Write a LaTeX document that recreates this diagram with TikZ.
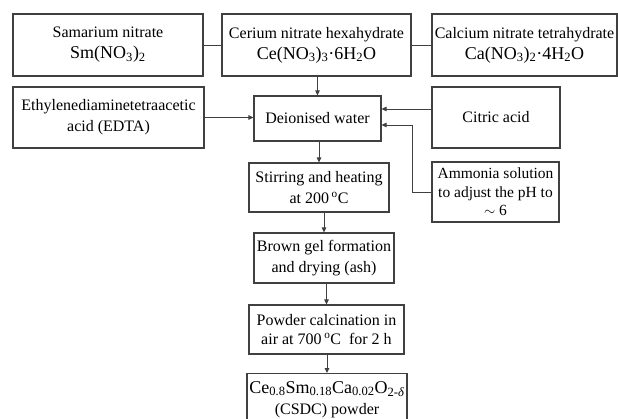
\documentclass[tikz,border=0pt]{standalone}
\usepackage{fontspec}
\setmainfont{Liberation Serif}
\usetikzlibrary{arrows.meta,calc}
\definecolor{LineGray}{RGB}{64,64,64}
\newcommand{\chemline}[1]{{\fontsize{18}{22}\selectfont #1}}

\begin{document}
\begin{tikzpicture}[x=1pt,y=-1pt,
  every node/.style={font=\fontsize{16}{21}\selectfont, align=center},
  stepbox/.style={draw=LineGray, line width=1.1pt, inner sep=2pt},
  feed/.style={-{Triangle[length=5pt,width=4.5pt]}, LineGray, line width=0.9pt},
  link/.style={LineGray, line width=0.9pt}]
  \useasboundingbox (0,0) rectangle (618,419);
  \clip (0,0) rectangle (618,419);
  \node[stepbox, minimum width=190pt, minimum height=62pt] (sm) at (108,45)
    {Samarium nitrate\\\chemline{Sm(NO\textsubscript{3})\textsubscript{2}}};
  \node[stepbox, minimum width=189pt, minimum height=62pt] (ce) at (316.5,45)
    {Cerium nitrate hexahydrate\\\chemline{Ce(NO\textsubscript{3})\textsubscript{3}·6H\textsubscript{2}O}};
  \node[stepbox, minimum width=185pt, minimum height=62pt] (ca) at (524.5,45)
    {Calcium nitrate tetrahydrate\\\chemline{Ca(NO\textsubscript{3})\textsubscript{2}·4H\textsubscript{2}O}};
  \node[stepbox, minimum width=191pt, minimum height=61pt] (edta) at (108.5,117.5)
    {Ethylenediaminetetraacetic\\acid (EDTA)};
  \node[stepbox, minimum width=127pt, minimum height=45pt] (dw) at (317.5,118.5)
    {Deionised water};
  \node[stepbox, minimum width=128pt, minimum height=61pt] (cit) at (496,117.5)
    {Citric acid};
  \node[stepbox, minimum width=127pt, minimum height=60pt, inner sep=1pt,
        font=\fontsize{15.5}{18.5}\selectfont] (amm) at (495.5,192)
    {Ammonia solution\\to adjust the pH to\\$\sim$ 6};
  \node[stepbox, minimum width=140pt, minimum height=49pt] (stir) at (319,187.5)
    {Stirring and heating\\at 200\,\textsuperscript{o}C};
  \node[stepbox, minimum width=140pt, minimum height=50pt] (gel) at (324,258)
    {Brown gel formation\\and drying (ash)};
  \node[stepbox, minimum width=155pt, minimum height=49pt,
        font=\fontsize{16}{19.5}\selectfont] (calc) at (326.5,329.5)
    {Powder calcination in\\air at 700\,\textsuperscript{o}C~ for 2 h};
  \node[stepbox, minimum width=160pt, minimum height=52pt, anchor=north] (csdc) at (327,373)
    {\chemline{Ce\textsubscript{0.8}Sm\textsubscript{0.18}Ca\textsubscript{0.02}O\textsubscript{2-\textit{δ}}}\\(CSDC) powder};
  \draw[link] (sm.east) -- (ce.west);
  \draw[link] (ce.east) -- (ca.west);
  \draw[feed] (ce.south -| dw.north) -- (dw.north);
  \draw[feed] (edta.east) -- (edta.east -| dw.west);
  \draw[feed] ([yshift=8.5pt]cit.west) -- ([yshift=8.5pt]cit.west -| dw.east);
  \coordinate (bend) at (412,125);
  \draw[feed] (amm.west) -| (bend) -- (bend -| dw.east);
  \draw[feed] (dw.south -| stir.north) -- (stir.north);
  \draw[feed] (stir.south -| gel.north) -- (gel.north);
  \draw[feed] (gel.south -| calc.north) -- (calc.north);
  \draw[feed] (calc.south -| csdc.north) -- (csdc.north);
\end{tikzpicture}
\end{document}
